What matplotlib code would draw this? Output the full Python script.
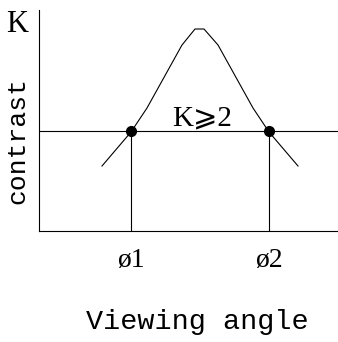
import matplotlib.pyplot as plt

# contrast vs viewing angle (arbitrary units)
angle = [63, 92, 108, 143, 156, 165, 179, 214, 230, 259]
contrast = [65, 99, 123, 186, 202, 202, 186, 123, 99, 65]

k_level = 100
phi_angles = [92, 230]
phi_labels = ["ø1", "ø2"]

fig = plt.figure(figsize=(3.38, 3.42), dpi=100)
ax = fig.add_axes([39 / 338, 111 / 342, 299 / 338, 221 / 342])
ax.set_xlim(0, 299)
ax.set_ylim(0, 221)

ax.plot(angle, contrast, color="black", lw=0.8)
ax.axhline(k_level, color="black", lw=0.8)
for a in phi_angles:
    ax.plot([a, a], [0, k_level], color="black", lw=0.8)
ax.plot(phi_angles, [k_level] * len(phi_angles), "o", color="black", ms=7)

for s in ["top", "right"]:
    ax.spines[s].set_visible(False)
for s in ["left", "bottom"]:
    ax.spines[s].set_linewidth(0.8)
ax.set_xticks([])
ax.set_yticks([])

serif = ["Liberation Serif", "DejaVu Serif", "DejaVu Sans"]
ax.text(163, 113, "K⩾2", fontsize=21, family=serif, ha="center", va="center")
for a, lab in zip(phi_angles, phi_labels):
    ax.text(a, -30, lab, fontsize=20, family=serif, ha="center", va="center")

fig.text(17 / 338, 1 - 24 / 342, "K", fontsize=22, family=serif,
         ha="center", va="center")
fig.text(17 / 338, 1 - 140 / 342, "contrast", fontsize=19, family="Liberation Mono",
         rotation=90, ha="center", va="center")
fig.text(197 / 338, 1 - 322 / 342, "Viewing angle", fontsize=20.5,
         family="Liberation Mono", ha="center", va="center")

fig.savefig("out.png", dpi=100)
